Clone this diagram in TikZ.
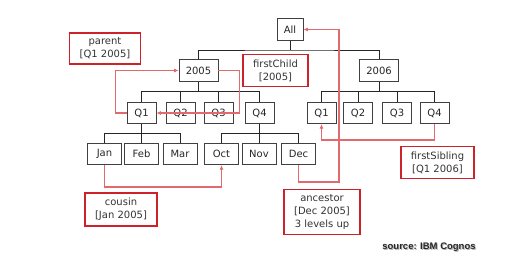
\documentclass[tikz,border=0pt]{standalone}
\usepackage{fontspec}
\setmainfont{DejaVu Sans}
\newfontfamily\srcfont{Liberation Sans}
\usetikzlibrary{arrows.meta}
\definecolor{lblred}{HTML}{CC2229}
\definecolor{arrred}{HTML}{E06A6E}
\tikzset{
  mbox/.style={draw=black!75, line width=0.8pt, fill=white, inner sep=0pt,
    minimum height=21.5pt, font=\fontsize{10}{12}\selectfont, text=black!85},
  allbox/.style={mbox, minimum width=26pt},
  yrbox/.style={mbox, minimum width=39pt},
  qbox/.style={mbox, minimum width=29pt},
  mobox/.style={mbox, minimum width=34pt},
  tree/.style={draw=black!85, line width=0.7pt},
  lblbox/.style={draw=lblred, line width=1.6pt, inner xsep=10pt, inner ysep=5pt,
    align=center, font=\fontsize{10}{13}\selectfont, text=black!80},
  redarr/.style={draw=arrred, line width=1.4pt, line join=miter,
    -{Latex[length=4.5pt,width=4pt]}},
}
\begin{document}
\begin{tikzpicture}[x=1pt,y=-1pt]
\useasboundingbox (0,0) rectangle (532,272);
% members
\node[allbox] (all) at (290,29.5) {All};
\node[yrbox] (y05) at (198.5,70.5) {2005};
\node[yrbox] (y06) at (379,70.5) {2006};
\node[qbox] (qa1) at (141.5,113) {Q1};
\node[qbox] (qa2) at (180.5,113) {Q2};
\node[qbox] (qa3) at (218.5,113) {Q3};
\node[qbox] (qa4) at (259.5,113) {Q4};
\node[qbox] (qb1) at (321.5,113) {Q1};
\node[qbox] (qb2) at (358,113) {Q2};
\node[qbox] (qb3) at (397,113) {Q3};
\node[qbox] (qb4) at (434.5,113) {Q4};
\node[mobox] (jan) at (104.5,154) {Jan};
\node[mobox] (feb) at (141.5,154) {Feb};
\node[mobox] (mar) at (180,154) {Mar};
\node[mobox] (oct) at (221.5,154) {Oct};
\node[mobox] (nov) at (259,154) {Nov};
\node[mobox] (dec) at (298.5,154) {Dec};
% tree lines
\coordinate (bar0) at (0,50);
\coordinate (bar1) at (0,91);
\coordinate (bar2) at (0,133);
\draw[tree] (all.south) -- (all |- bar0);
\draw[tree] (y05.north) |- (all |- bar0) -| (y06.north);
\draw[tree] (y05.south) -- (y05 |- bar1);
\foreach \q in {qa1,qa2,qa3,qa4}
  \draw[tree] (\q.north) |- (y05 |- bar1);
\draw[tree] (y06.south) -- (y06 |- bar1);
\foreach \q in {qb1,qb2,qb3,qb4}
  \draw[tree] (\q.north) |- (y06 |- bar1);
\draw[tree] (qa1.south) -- (qa1 |- bar2);
\foreach \m in {jan,feb,mar}
  \draw[tree] (\m.north) |- (qa1 |- bar2);
\draw[tree] (qa4.south) -- (qa4 |- bar2);
\foreach \m in {oct,nov,dec}
  \draw[tree] (\m.north) |- (qa4 |- bar2);
% functions
\draw[redarr] (qa1.west) -- ++(-11,0) |- (y05.west);
\draw[redarr] (y05.east) -- ++(21,0) |- (qa1.east);
\draw[redarr] (jan.south) -- ++(0,22) -| (oct.south);
\draw[redarr] (dec.south) -- ++(0,17) -- ++(40.5,0) |- (all.east);
\draw[redarr] (qb4.south) -- ++(0,16) -| (qb1.south);
\node[lblbox] (parent) at (105,48.5) {parent\\ {[Q1 2005]}};
\node[lblbox] (fchild) at (275.5,70.5) {firstChild\\ {[2005]}};
\node[lblbox] (cousin) at (121,209.5) {cousin\\ {[Jan 2005]}};
\node[lblbox] (ancestor) at (322,212) {ancestor\\ {[Dec 2005]}\\ 3 levels up};
\node[lblbox] (fsib) at (437.5,162.5) {firstSibling\\ {[Q1 2006]}};
% source note
\node[font=\srcfont\bfseries\fontsize{9.5}{11}\selectfont, text=black!30] at (430,248) {source: IBM Cognos};
\node[font=\srcfont\bfseries\fontsize{9.5}{11}\selectfont, text=black!85] (src) at (429,247) {source: IBM Cognos};
\end{tikzpicture}
\end{document}
